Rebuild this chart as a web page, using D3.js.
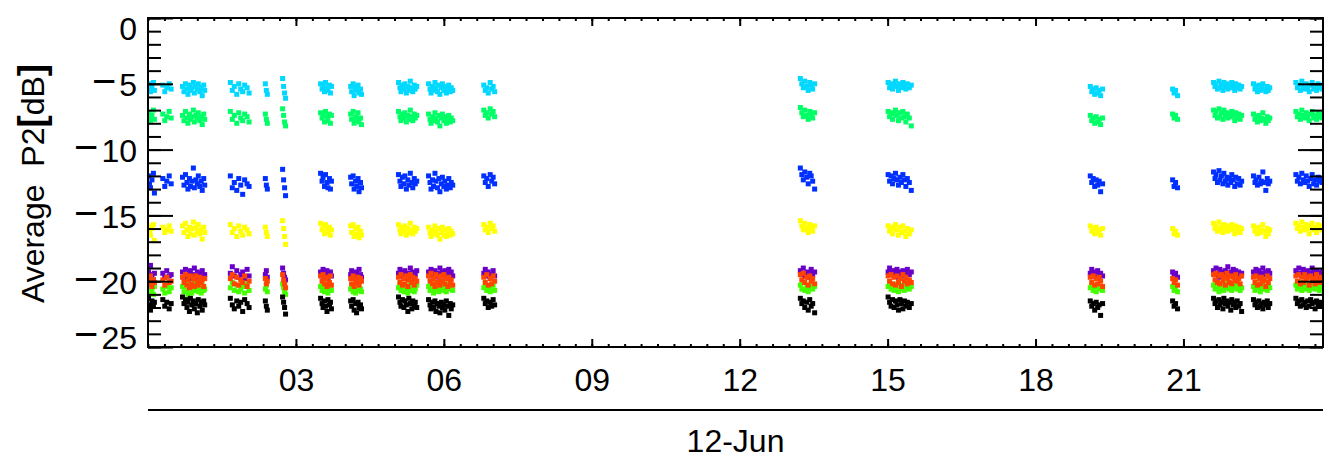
<!DOCTYPE html>
<html>
<head>
<meta charset="utf-8">
<script src="https://cdn.jsdelivr.net/npm/d3@7"></script>
<style>
  html, body { margin: 0; padding: 0; background: #fff; }
  svg { display: block; }
  text { font-family: "Liberation Sans", Arial, sans-serif; fill: #000; }
</style>
</head>
<body>
<svg id="chart" width="1335" height="473"></svg>
<script>
// ---- data: sample times (hours of 12-Jun) ----
const sampleTimes = [
  0.01,0.03,0.05,0.08,0.11,0.13,
  0.30,0.34,0.38,0.43,0.47,
  0.70,0.73,0.76,0.79,0.81,0.84,0.86,0.89,0.92,0.94,0.97,1.00,1.02,1.05,1.08,1.10,1.13,1.15,
  1.67,1.71,1.75,1.80,1.84,1.88,1.92,1.96,2.01,2.05,
  2.38,2.40,2.42,
  2.73,2.75,2.77,2.79,
  3.50,3.53,3.55,3.58,3.60,3.63,3.65,3.68,3.70,3.72,
  4.11,4.13,4.16,4.18,4.21,4.23,4.26,4.28,4.31,4.33,
  5.08,5.11,5.13,5.16,5.19,5.21,5.24,5.27,5.29,5.32,5.35,5.37,5.40,5.42,5.45,
  5.69,5.72,5.74,5.77,5.79,5.82,5.84,5.87,5.90,5.92,5.95,5.97,6.00,6.02,6.05,6.08,6.10,6.13,6.15,6.18,
  6.81,6.84,6.87,6.90,6.94,6.97,7.00,7.03,
  13.23,13.26,13.29,13.32,13.36,13.39,13.42,13.45,13.48,13.52,
  15.01,15.04,15.07,15.10,15.13,15.16,15.19,15.22,15.25,15.28,15.31,15.34,15.37,15.40,15.44,15.48,
  19.11,19.14,19.17,19.20,19.23,19.26,19.29,19.32,19.36,
  20.78,20.81,20.84,20.88,
  21.61,21.64,21.66,21.69,21.72,21.74,21.77,21.80,21.82,21.85,21.88,21.90,21.93,21.96,21.98,22.01,22.04,22.06,22.09,22.12,22.15,22.18,
  22.42,22.45,22.47,22.50,22.53,22.56,22.58,22.61,22.64,22.67,22.70,22.72,22.75,
  23.28,23.31,23.34,23.37,23.40,23.43,23.46,23.49,23.52,23.55,23.58,23.61,23.64,23.67,23.70,23.73,23.76,23.79,23.81,23.83
];

// ---- data: average P2 [dB] per channel ----
const cyanP2 = [
  -5.0,-5.4,-5.6,-5.2,-4.9,-5.5,
  -5.1,-5.6,-5.3,-5.0,-5.4,
  -5.2,-5.6,-5.0,-5.4,-5.8,-5.1,-5.5,-5.3,-4.9,-5.7,-5.2,-5.4,-5.0,-5.6,-5.3,-5.9,-5.1,-5.5,
  -4.9,-5.5,-5.2,-5.8,-5.0,-5.4,-5.6,-5.1,-5.3,-5.7,
  -5.0,-5.5,-5.8,
  -4.6,-5.2,-5.7,-6.1,
  -5.0,-5.4,-5.2,-5.6,-4.9,-5.3,-5.5,-5.1,-5.7,-5.2,
  -5.2,-5.6,-5.0,-5.9,-5.3,-5.5,-5.1,-5.7,-5.4,-5.8,
  -4.9,-5.3,-5.6,-5.1,-5.4,-5.0,-5.7,-5.2,-5.5,-4.8,-5.3,-5.6,-5.1,-5.4,-5.2,
  -5.0,-5.4,-5.7,-5.2,-5.5,-4.9,-5.3,-5.6,-5.1,-5.8,-5.3,-5.0,-5.5,-5.2,-5.7,-5.4,-5.1,-5.6,-5.3,-5.5,
  -5.1,-5.5,-5.3,-5.7,-4.9,-5.4,-5.2,-5.6,
  -4.6,-5.0,-5.3,-4.8,-5.2,-5.5,-4.9,-5.1,-5.4,-5.0,
  -4.9,-5.3,-5.0,-5.4,-5.1,-4.8,-5.2,-5.5,-5.0,-5.3,-4.9,-5.2,-5.4,-5.0,-5.3,-5.1,
  -5.2,-5.6,-5.4,-5.8,-5.3,-5.7,-5.5,-5.9,-5.4,
  -5.4,-5.7,-5.5,-5.9,
  -4.9,-5.2,-5.0,-5.4,-4.8,-5.3,-5.1,-5.5,-4.9,-5.2,-5.0,-5.4,-5.1,-5.3,-4.9,-5.2,-5.5,-5.0,-5.3,-5.1,-5.4,-5.2,
  -5.0,-5.4,-5.2,-5.6,-5.1,-5.5,-5.3,-5.0,-5.4,-5.6,-5.2,-5.5,-5.3,
  -4.9,-5.3,-5.1,-5.5,-4.8,-5.2,-5.4,-5.0,-5.3,-5.6,-5.1,-4.9,-5.4,-5.2,-5.5,-5.0,-5.3,-5.1,-5.4,-5.2
];
const greenP2 = [
  -7.2,-7.6,-7.9,-7.4,-7.0,-7.7,
  -7.3,-7.8,-7.5,-7.1,-7.6,
  -7.4,-7.8,-7.1,-7.6,-8.0,-7.3,-7.7,-7.5,-7.0,-7.9,-7.4,-7.6,-7.2,-7.8,-7.5,-8.1,-7.3,-7.7,
  -7.1,-7.7,-7.4,-8.0,-7.2,-7.6,-7.8,-7.3,-7.5,-7.9,
  -7.3,-7.7,-8.0,
  -6.9,-7.4,-7.9,-8.2,
  -7.2,-7.6,-7.4,-7.9,-7.1,-7.5,-7.8,-7.3,-8.0,-7.4,
  -7.3,-7.7,-7.1,-8.0,-7.5,-7.8,-7.2,-7.9,-7.6,-8.1,
  -7.1,-7.5,-7.8,-7.3,-7.6,-7.2,-7.9,-7.4,-7.7,-7.0,-7.5,-7.8,-7.3,-7.6,-7.4,
  -7.3,-7.7,-8.0,-7.5,-7.8,-7.2,-7.6,-7.9,-7.4,-8.2,-7.6,-7.3,-7.8,-7.5,-8.0,-7.7,-7.4,-7.9,-7.6,-7.8,
  -7.0,-7.4,-7.2,-7.6,-6.9,-7.3,-7.1,-7.5,
  -6.8,-7.2,-7.5,-7.0,-7.4,-7.7,-7.1,-7.3,-7.6,-7.2,
  -7.1,-7.5,-7.2,-7.7,-7.3,-7.0,-7.4,-7.8,-7.2,-7.6,-7.1,-7.5,-7.9,-7.3,-7.6,-8.2,
  -7.4,-7.8,-7.6,-8.0,-7.5,-7.9,-7.7,-8.1,-7.6,
  -7.3,-7.6,-7.4,-7.7,
  -7.0,-7.4,-7.1,-7.6,-6.9,-7.5,-7.2,-7.7,-7.0,-7.4,-7.2,-7.6,-7.3,-7.5,-7.1,-7.4,-7.8,-7.2,-7.6,-7.3,-7.7,-7.4,
  -7.3,-7.7,-7.5,-7.9,-7.4,-7.8,-7.6,-7.2,-7.7,-8.0,-7.5,-7.8,-7.6,
  -7.1,-7.5,-7.3,-7.7,-7.0,-7.4,-7.6,-7.2,-7.5,-7.8,-7.3,-7.1,-7.6,-7.4,-7.7,-7.2,-7.5,-7.3,-7.6,-7.4
];
const blueP2 = [
  -12.0,-12.6,-12.9,-12.3,-11.8,-13.3,
  -12.2,-12.8,-12.4,-12.0,-12.6,
  -12.1,-12.7,-11.9,-12.5,-13.0,-12.2,-12.8,-12.4,-11.4,-12.9,-12.3,-12.6,-12.0,-12.8,-12.4,-13.1,-12.2,-12.7,
  -12.0,-12.9,-12.5,-13.1,-12.2,-12.7,-13.4,-12.3,-12.6,-12.8,
  -12.2,-12.7,-13.0,
  -11.5,-12.3,-12.9,-13.5,
  -11.8,-12.4,-12.1,-12.8,-11.9,-12.5,-12.9,-12.2,-13.0,-12.4,
  -12.1,-12.6,-12.0,-13.0,-12.4,-12.8,-12.2,-13.2,-12.5,-12.9,
  -11.9,-12.4,-12.8,-12.1,-12.6,-12.0,-13.0,-12.3,-12.7,-11.8,-12.5,-12.9,-12.2,-12.6,-12.4,
  -12.0,-12.5,-13.0,-12.3,-12.8,-11.8,-12.4,-12.9,-12.2,-13.2,-12.6,-12.1,-12.8,-12.4,-13.0,-12.7,-12.2,-12.9,-12.5,-12.7,
  -12.0,-12.5,-12.2,-12.8,-11.9,-12.4,-12.1,-12.6,
  -11.4,-11.9,-12.3,-11.7,-12.1,-12.6,-11.8,-12.0,-12.4,-13.0,
  -11.9,-12.4,-12.0,-12.6,-12.2,-11.8,-12.3,-12.7,-12.1,-12.5,-11.9,-12.3,-12.8,-12.2,-12.5,-13.1,
  -12.0,-12.5,-12.2,-12.8,-12.3,-12.7,-12.4,-13.2,-12.6,
  -12.3,-12.8,-12.5,-12.9,
  -11.7,-12.2,-11.9,-12.5,-11.6,-12.3,-12.0,-12.6,-11.8,-12.4,-12.1,-12.7,-12.2,-12.5,-11.9,-12.3,-12.8,-12.1,-12.6,-12.2,-12.7,-12.4,
  -12.0,-12.5,-12.3,-12.7,-12.1,-12.6,-12.4,-11.7,-12.5,-13.1,-12.2,-12.6,-12.4,
  -11.9,-12.4,-12.1,-12.6,-11.8,-12.3,-12.5,-12.0,-12.4,-12.8,-12.2,-11.9,-12.6,-12.3,-12.7,-12.1,-12.4,-12.2,-12.5,-12.3
];
const yellowP2 = [
  -15.8,-16.2,-16.5,-16.0,-15.7,-16.9,
  -15.9,-16.3,-16.1,-15.8,-16.2,
  -15.8,-16.3,-15.6,-16.1,-16.6,-15.9,-16.4,-16.0,-15.5,-16.5,-15.9,-16.2,-15.7,-16.4,-16.1,-16.8,-15.9,-16.3,
  -15.7,-16.3,-16.0,-16.6,-15.8,-16.2,-16.5,-15.9,-16.1,-16.4,
  -15.9,-16.3,-16.6,
  -15.4,-16.0,-16.6,-17.2,
  -15.6,-16.1,-15.8,-16.4,-15.7,-16.0,-16.3,-15.9,-16.5,-16.1,
  -15.8,-16.3,-15.7,-16.6,-16.0,-16.4,-15.9,-16.7,-16.2,-16.5,
  -15.7,-16.1,-16.4,-15.9,-16.2,-15.8,-16.5,-16.0,-16.3,-15.6,-16.1,-16.4,-15.9,-16.2,-16.0,
  -15.9,-16.3,-16.6,-16.1,-16.4,-15.8,-16.2,-16.5,-16.0,-16.8,-16.3,-15.9,-16.5,-16.1,-16.6,-16.4,-16.0,-16.5,-16.2,-16.4,
  -15.7,-16.1,-15.9,-16.3,-15.6,-16.0,-15.8,-16.2,
  -15.4,-15.8,-16.1,-15.6,-16.0,-16.3,-15.7,-15.9,-16.2,-15.8,
  -15.8,-16.2,-15.9,-16.4,-16.0,-15.7,-16.1,-16.5,-15.9,-16.3,-15.8,-16.2,-16.6,-16.0,-16.4,-16.1,
  -15.8,-16.2,-16.0,-16.4,-15.9,-16.3,-16.1,-16.5,-16.0,
  -16.0,-16.4,-16.2,-16.5,
  -15.6,-16.0,-15.8,-16.2,-15.5,-16.1,-15.9,-16.3,-15.7,-16.0,-15.8,-16.2,-15.9,-16.1,-15.7,-16.0,-16.4,-15.8,-16.2,-15.9,-16.3,-16.0,
  -15.8,-16.2,-16.0,-16.4,-15.9,-16.3,-16.1,-15.7,-16.2,-16.6,-16.0,-16.4,-16.1,
  -15.6,-16.0,-15.8,-16.2,-15.5,-15.9,-16.1,-15.7,-16.0,-16.4,-15.8,-15.6,-16.1,-15.9,-16.3,-15.7,-16.0,-15.8,-16.1,-15.9
];
const purpleP2 = [
  -19.3,-19.6,-18.8,-19.5,-19.9,-19.4,
  -19.4,-19.7,-19.2,-19.6,-19.5,
  -19.3,-19.7,-19.1,-19.6,-19.9,-19.4,-19.2,-19.8,-19.5,-19.0,-19.6,-19.3,-19.7,-19.4,-19.8,-19.2,-19.6,-19.5,
  -19.4,-18.9,-19.6,-19.2,-19.7,-19.5,-19.3,-19.8,-19.1,-19.6,
  -19.5,-19.2,-19.7,
  -19.0,-19.4,-19.7,-19.9,
  -19.3,-19.6,-19.1,-19.7,-19.4,-19.2,-19.8,-19.5,-19.3,-19.6,
  -19.5,-19.2,-19.7,-19.4,-19.8,-19.3,-19.6,-19.1,-19.5,-19.7,
  -19.4,-19.1,-19.6,-19.3,-19.7,-19.2,-19.5,-19.8,-19.4,-19.0,-19.6,-19.3,-19.7,-19.5,-19.2,
  -19.3,-19.6,-19.1,-19.5,-19.8,-19.2,-19.6,-19.4,-19.7,-19.0,-19.5,-19.3,-19.6,-19.2,-19.7,-19.4,-19.1,-19.5,-19.3,-19.6,
  -19.4,-19.1,-19.6,-19.3,-19.7,-19.5,-19.2,-19.6,
  -19.2,-19.5,-19.0,-19.6,-19.3,-19.7,-19.4,-19.1,-19.5,-19.3,
  -19.3,-19.0,-19.5,-19.2,-19.6,-19.4,-19.1,-19.7,-19.3,-19.5,-19.2,-19.6,-19.4,-19.1,-19.5,-19.3,
  -19.4,-19.1,-19.6,-19.3,-19.7,-19.2,-19.5,-19.4,-19.6,
  -19.3,-19.6,-19.4,-19.7,
  -19.2,-19.5,-19.0,-19.4,-19.7,-19.1,-19.5,-19.3,-19.6,-19.2,-19.4,-18.9,-19.5,-19.3,-19.6,-19.1,-19.4,-19.2,-19.5,-19.3,-19.6,-19.4,
  -19.3,-19.6,-19.1,-19.5,-19.2,-19.7,-19.4,-19.0,-19.5,-19.3,-19.6,-19.2,-19.4,
  -19.2,-19.5,-19.0,-19.4,-19.6,-19.1,-19.3,-19.5,-19.2,-19.6,-19.4,-19.0,-19.3,-19.5,-19.2,-19.4,-19.6,-19.3,-19.5,-19.2
];
const limeP2 = [
  -20.5,-20.9,-20.3,-20.7,-21.0,-20.4,
  -20.6,-20.9,-20.4,-20.8,-20.5,
  -20.4,-20.8,-20.2,-20.7,-21.0,-20.5,-20.3,-20.9,-20.6,-20.1,-20.7,-20.4,-20.8,-20.5,-20.9,-20.3,-20.7,-20.6,
  -20.5,-20.1,-20.7,-20.3,-20.8,-20.6,-20.4,-20.9,-20.2,-20.7,
  -20.6,-20.3,-20.8,
  -20.2,-20.5,-20.8,-21.0,
  -20.4,-20.7,-20.2,-20.8,-20.5,-20.3,-20.9,-20.6,-20.4,-20.7,
  -20.6,-20.3,-20.8,-20.5,-20.9,-20.4,-20.7,-20.2,-20.6,-20.8,
  -20.5,-20.2,-20.7,-20.4,-20.8,-20.3,-20.6,-20.9,-20.5,-20.1,-20.7,-20.4,-20.8,-20.6,-20.3,
  -20.4,-20.7,-20.2,-20.6,-20.9,-20.3,-20.7,-20.5,-20.8,-20.1,-20.6,-20.4,-20.7,-20.3,-20.8,-20.5,-20.2,-20.6,-20.4,-20.7,
  -20.5,-20.2,-20.7,-20.4,-20.8,-20.6,-20.3,-20.7,
  -20.3,-20.6,-20.1,-20.7,-20.4,-20.8,-20.5,-20.2,-20.6,-20.4,
  -20.4,-20.1,-20.6,-20.3,-20.7,-20.5,-20.2,-20.8,-20.4,-20.6,-20.3,-20.7,-20.5,-20.2,-20.6,-20.4,
  -20.5,-20.2,-20.7,-20.4,-20.8,-20.3,-20.6,-20.5,-20.7,
  -20.4,-20.7,-20.5,-20.8,
  -20.3,-20.6,-20.1,-20.5,-20.8,-20.2,-20.6,-20.4,-20.7,-20.3,-20.5,-20.0,-20.6,-20.4,-20.7,-20.2,-20.5,-20.3,-20.6,-20.4,-20.7,-20.5,
  -20.4,-20.7,-20.2,-20.6,-20.3,-20.8,-20.5,-20.1,-20.6,-20.4,-20.7,-20.3,-20.5,
  -20.3,-20.6,-20.1,-20.5,-20.7,-20.2,-20.4,-20.6,-20.3,-20.7,-20.5,-20.1,-20.4,-20.6,-20.3,-20.5,-20.7,-20.4,-20.6,-20.3
];
const redP2 = [
  -19.8,-20.2,-19.6,-20.4,-19.9,-20.1,
  -19.9,-20.3,-19.7,-20.1,-20.0,
  -19.7,-20.1,-19.5,-20.3,-19.9,-20.5,-19.6,-20.2,-19.8,-20.4,-19.6,-20.0,-20.3,-19.7,-20.1,-19.9,-20.4,-19.8,
  -19.8,-19.5,-20.2,-19.7,-20.3,-19.9,-20.1,-19.6,-20.4,-20.0,
  -19.8,-20.2,-20.0,
  -19.5,-19.9,-20.2,-20.5,
  -19.6,-20.0,-19.5,-20.2,-19.8,-20.4,-19.7,-20.1,-19.6,-20.3,
  -19.8,-20.2,-19.6,-20.4,-19.9,-20.1,-19.7,-20.3,-19.8,-20.0,
  -19.7,-20.1,-19.5,-20.3,-19.8,-20.2,-19.6,-20.4,-19.9,-19.5,-20.1,-19.7,-20.3,-19.8,-20.0,
  -19.6,-20.0,-19.4,-20.2,-19.8,-20.4,-19.5,-20.1,-19.7,-20.3,-19.6,-20.0,-19.5,-20.2,-19.8,-20.4,-19.7,-20.1,-19.9,-20.3,
  -19.7,-20.1,-19.5,-20.3,-19.8,-20.2,-19.6,-20.0,
  -19.5,-19.9,-19.4,-20.1,-19.7,-20.3,-19.6,-20.0,-19.8,-20.2,
  -19.6,-20.0,-19.5,-20.2,-19.7,-20.3,-19.6,-20.1,-19.8,-20.4,-19.5,-20.0,-19.7,-20.2,-19.9,-20.1,
  -19.7,-20.1,-19.6,-20.3,-19.8,-20.2,-19.7,-20.0,-20.4,
  -19.8,-20.1,-19.9,-20.3,
  -19.5,-19.9,-19.4,-20.1,-19.6,-20.2,-19.5,-20.0,-19.7,-20.3,-19.4,-19.8,-20.1,-19.6,-20.2,-19.7,-19.9,-19.5,-20.0,-19.8,-20.2,-19.6,
  -19.7,-20.1,-19.6,-20.3,-19.8,-20.2,-19.7,-20.0,-19.9,-20.4,-19.6,-20.1,-19.8,
  -19.6,-20.0,-19.5,-20.2,-19.7,-20.1,-19.5,-19.9,-19.7,-20.3,-19.6,-20.0,-19.8,-20.2,-19.5,-19.9,-20.1,-19.7,-20.0,-19.8
];
const blackP2 = [
  -21.3,-21.8,-22.2,-21.5,-21.9,-21.6,
  -21.4,-21.9,-21.6,-22.1,-21.7,
  -21.2,-21.7,-21.4,-22.0,-21.6,-22.3,-21.3,-21.8,-21.5,-22.1,-21.7,-22.4,-21.4,-21.9,-21.6,-22.2,-21.5,-21.8,
  -21.3,-21.8,-22.1,-21.5,-21.9,-21.6,-22.3,-21.4,-21.7,-22.0,
  -21.5,-21.9,-22.2,
  -21.2,-21.6,-22.0,-22.5,
  -21.3,-21.7,-22.0,-21.5,-21.9,-22.3,-21.4,-21.8,-21.6,-22.1,
  -21.5,-21.9,-21.4,-22.2,-21.7,-22.4,-21.6,-22.0,-21.8,-22.1,
  -21.2,-21.6,-21.9,-21.4,-22.0,-21.5,-21.8,-22.3,-21.3,-21.7,-22.1,-21.5,-21.9,-21.6,-22.0,
  -21.4,-21.8,-22.1,-21.6,-22.0,-21.5,-22.3,-21.7,-21.9,-22.4,-21.6,-22.0,-21.8,-22.2,-21.5,-21.9,-22.6,-21.7,-22.1,-21.8,
  -21.3,-21.7,-21.5,-22.0,-21.6,-21.9,-21.4,-21.8,
  -21.3,-21.7,-21.5,-22.0,-21.6,-22.2,-21.4,-21.9,-21.7,-22.4,
  -21.2,-21.6,-21.9,-21.4,-22.0,-21.5,-21.8,-22.2,-21.4,-21.7,-22.1,-21.5,-21.9,-21.6,-22.0,-21.7,
  -21.5,-21.9,-21.7,-22.2,-21.6,-22.0,-21.8,-22.6,-21.7,
  -21.5,-21.9,-21.7,-22.1,
  -21.3,-21.7,-21.5,-22.0,-21.4,-21.8,-21.6,-22.1,-21.3,-21.7,-21.5,-21.9,-21.6,-22.2,-21.4,-21.8,-21.6,-22.0,-21.5,-21.9,-21.7,-22.3,
  -21.4,-21.8,-21.6,-22.0,-21.5,-21.9,-21.7,-22.1,-21.6,-21.8,-21.5,-22.0,-21.7,
  -21.3,-21.7,-21.5,-21.9,-21.4,-21.8,-21.6,-22.0,-21.5,-21.9,-21.4,-21.7,-21.6,-22.1,-21.5,-21.8,-21.6,-21.9,-21.7,-21.8
];

// ---- axis tick values / labels ----
const yMajorTicks = [0, -5, -10, -15, -20, -25];
const yMinorTicks = d3.range(-25, 1, 1);
const xMajorTicks = [3, 6, 9, 12, 15, 18, 21];
const xMinorTicks = d3.range(0, 24, 1/3);
const dayLabel = "12-Jun";
const yTitle = ["Average  P2", "[", "dB", "]"];

// series in drawing order
const series = [
  { name: "cyan",   values: cyanP2,   color: "#00d8ff" },
  { name: "green",  values: greenP2,  color: "#00ff66" },
  { name: "blue",   values: blueP2,   color: "#0030ff" },
  { name: "yellow", values: yellowP2, color: "#ffff00" },
  { name: "purple", values: purpleP2, color: "#6a00c8" },
  { name: "lime",   values: limeP2,   color: "#44ff00" },
  { name: "red",    values: redP2,    color: "#ff4400" },
  { name: "black",  values: blackP2,  color: "#000000" }
];

// ---- layout ----
const L = 148, R = 1323, T = 18, B = 347;
const svg = d3.select("#chart");
const x = d3.scaleLinear().domain([0, 23.83]).range([L, R]);
const y = d3.scaleLinear().domain([-25, 0]).range([B, T]);
const FS = 32;
const MS = 5; // marker size

svg.append("defs").append("clipPath").attr("id", "plotclip")
  .append("rect").attr("x", L).attr("y", T).attr("width", R - L).attr("height", B - T);

// points
const plot = svg.append("g").attr("clip-path", "url(#plotclip)");
series.forEach(s => {
  const pts = sampleTimes.map((t, i) => [t, s.values[i]]).filter(d => d[1] !== undefined);
  plot.append("g").selectAll("rect").data(pts).join("rect")
    .attr("x", d => x(d[0]) - MS / 2)
    .attr("y", d => y(d[1]) - MS / 2)
    .attr("width", MS).attr("height", MS)
    .attr("fill", s.color);
});

function styleAxis(g) {
  g.select(".domain").remove();
  g.selectAll(".tick line").attr("stroke", "#000").attr("stroke-width", 2);
  g.selectAll("text").attr("font-family", "Liberation Sans, Arial, sans-serif")
    .attr("font-size", FS).attr("fill", "#000");
}

// left axis: minor, then major with labels
svg.append("g").attr("transform", `translate(${L},0)`)
  .call(d3.axisLeft(y).tickValues(yMinorTicks).tickSize(-13).tickFormat(""))
  .call(styleAxis);
const yLab = svg.append("g").attr("transform", `translate(${L},0)`)
  .call(d3.axisLeft(y).tickValues(yMajorTicks).tickSize(-25).tickPadding(11).tickFormat(d3.format("d")))
  .call(styleAxis);
// end labels sit inside the frame height, as in the reference; long minus sign
yLab.selectAll(".tick text").each(function(d) {
  const t = d3.select(this);
  const off = d === 0 ? 21 : d === -25 ? 1 : 12;
  t.attr("dy", null);
  t.text(null);
  if (d < 0) {
    t.append("tspan").attr("font-size", FS * 1.3).attr("dy", off - 1).text("\u2212");
    t.append("tspan").attr("dx", 3).attr("dy", 1).text(String(Math.abs(d)));
  } else {
    t.append("tspan").attr("dy", off).text(String(d));
  }
});

// right axis
svg.append("g").attr("transform", `translate(${R},0)`)
  .call(d3.axisRight(y).tickValues(yMinorTicks).tickSize(-13).tickFormat(""))
  .call(styleAxis);
svg.append("g").attr("transform", `translate(${R},0)`)
  .call(d3.axisRight(y).tickValues(yMajorTicks).tickSize(-25).tickFormat(""))
  .call(styleAxis);

// bottom axis
svg.append("g").attr("transform", `translate(0,${B})`)
  .call(d3.axisBottom(x).tickValues(xMinorTicks).tickSize(-3).tickFormat(""))
  .call(styleAxis);
svg.append("g").attr("transform", `translate(0,${B})`)
  .call(d3.axisBottom(x).tickValues(xMajorTicks).tickSize(-8).tickPadding(21).tickFormat(d3.format("02d")))
  .call(styleAxis);

// top axis
svg.append("g").attr("transform", `translate(0,${T})`)
  .call(d3.axisTop(x).tickValues(xMinorTicks).tickSize(-3).tickFormat(""))
  .call(styleAxis);
svg.append("g").attr("transform", `translate(0,${T})`)
  .call(d3.axisTop(x).tickValues(xMajorTicks).tickSize(-8).tickFormat(""))
  .call(styleAxis);

// frame
svg.append("rect").attr("x", L).attr("y", T).attr("width", R - L).attr("height", B - T)
  .attr("fill", "none").attr("stroke", "#000").attr("stroke-width", 2);

// date line + label
svg.append("line").attr("x1", x.range()[0]).attr("x2", x.range()[1])
  .attr("y1", 410).attr("y2", 410).attr("stroke", "#000").attr("stroke-width", 2);
svg.append("text").attr("x", (L + R) / 2).attr("y", 440).attr("dy", "0.36em")
  .attr("text-anchor", "middle").attr("font-size", FS).text(dayLabel);

// y title
const yt = svg.append("text")
  .attr("transform", `translate(44,${(T + B) / 2 + 1}) rotate(-90)`)
  .attr("text-anchor", "middle").attr("font-size", FS)
  .style("white-space", "pre");
yt.append("tspan").text(yTitle[0]);
yt.append("tspan").attr("font-weight", "bold").attr("font-size", FS * 1.15).text(yTitle[1]);
yt.append("tspan").text(yTitle[2]);
yt.append("tspan").attr("font-weight", "bold").attr("font-size", FS * 1.15).text(yTitle[3]);
</script>
</body>
</html>
